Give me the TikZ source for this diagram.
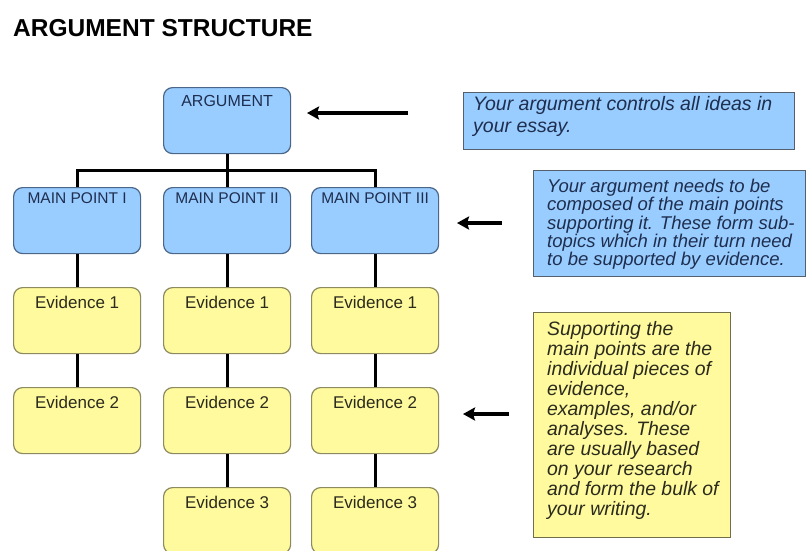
\documentclass[tikz,border=0pt]{standalone}
\usepackage{fontspec}
\setmainfont{Liberation Sans}
\usetikzlibrary{arrows.meta}
\definecolor{bluefill}{HTML}{99CCFF}
\definecolor{blueborder}{HTML}{4A6688}
\definecolor{yelfill}{HTML}{FFFA9E}
\definecolor{yelborder}{HTML}{8C8A5E}
\definecolor{noteborder}{HTML}{55606E}
\definecolor{navytext}{HTML}{1E2E4E}
\definecolor{darktext}{HTML}{2B2B1E}
\newcommand{\tightlines}{\lineskiplimit=-20pt\relax\lineskip=0pt\relax}
\tikzset{
  bluebox/.style={draw=blueborder, fill=bluefill, line width=1.2pt, rounded corners=9pt,
    minimum width=127pt, minimum height=66pt, anchor=north west, inner sep=0pt},
  yelbox/.style={draw=yelborder, fill=yelfill, line width=1.2pt, rounded corners=9pt,
    minimum width=127pt, minimum height=66pt, anchor=north west, inner sep=0pt},
  bluelabel/.style={anchor=base, inner sep=0pt, text=navytext, font=\fontsize{15.5}{18}\selectfont},
  evlabel/.style={anchor=base, inner sep=0pt, text=darktext, font=\fontsize{17}{20}\selectfont},
  conn/.style={line width=3pt, black},
  pointer/.style={line width=4pt, black, -{Stealth[length=12pt,width=13pt,inset=2pt]}},
  notebox/.style={draw=noteborder, line width=1.2pt, anchor=north west, inner sep=0pt},
  notetext/.style={anchor=north west, inner sep=0pt, align=left}
}
\begin{document}
\begin{tikzpicture}[x=1pt,y=-1pt]
\clip (0,0) rectangle (807,550);
\fill[white] (0,0) rectangle (807,550);

% title
\node[anchor=base west, inner sep=0pt, font=\bfseries\fontsize{24.5}{28}\selectfont] (title) at (13,36) {ARGUMENT STRUCTURE};

% argument
\node[bluebox] (arg) at (163,87) {};
\node[bluelabel, font=\fontsize{16}{18}\selectfont] (argl) at ([yshift=-19pt]arg.north) {ARGUMENT};

% main points
\node[bluebox] (m1) at (13,187) {};
\node[bluebox] (m2) at (163,187) {};
\node[bluebox] (m3) at (311,187) {};
\node[bluelabel] (m1l) at ([yshift=-16pt]m1.north) {MAIN POINT I};
\node[bluelabel] (m2l) at ([yshift=-16pt]m2.north) {MAIN POINT II};
\node[bluelabel] (m3l) at ([yshift=-16pt]m3.north) {MAIN POINT III};

% evidence
\node[yelbox] (e11) at (13,287) {};
\node[yelbox] (e21) at (163,287) {};
\node[yelbox] (e31) at (311,287) {};
\node[yelbox] (e12) at (13,387) {};
\node[yelbox] (e22) at (163,387) {};
\node[yelbox] (e32) at (311,387) {};
\node[yelbox] (e23) at (163,487) {};
\node[yelbox] (e33) at (311,487) {};
\foreach \n/\t in {e11/Evidence 1,e21/Evidence 1,e31/Evidence 1,e12/Evidence 2,e22/Evidence 2,e32/Evidence 2,e23/Evidence 3,e33/Evidence 3}{
  \node[evlabel] (\n l) at ([yshift=-21pt]\n.north) {\t};
}

% connectors
\coordinate (bar) at (226,170);
\draw[conn] (arg.south) -- (m2.north);
\draw[conn] (m1.north) -- (m1.north |- bar) -- (m3.north |- bar) -- (m3.north);
\draw[conn] (m1.south) -- (e11.north);
\draw[conn] (m2.south) -- (e21.north);
\draw[conn] (m3.south) -- (e31.north);
\draw[conn] (e11.south) -- (e12.north);
\draw[conn] (e21.south) -- (e22.north);
\draw[conn] (e31.south) -- (e32.north);
\draw[conn] (e22.south) -- (e23.north);
\draw[conn] (e32.south) -- (e33.north);

% notes
\node[notebox, fill=bluefill, minimum width=331pt, minimum height=57pt] (n1) at (463,92) {};
\node[notetext, text=navytext, font=\itshape\fontsize{19.5}{22}\selectfont] (n1t) at (473,96)
  {Your argument controls all ideas in\\your essay.};
\node[notebox, fill=bluefill, minimum width=272pt, minimum height=106pt] (n2) at (533,170) {};
\node[notetext, text=navytext, font=\itshape\fontsize{18.5}{18.3}\selectfont\tightlines] (n2t) at (547,179)
  {Your argument needs to be\\composed of the main points\\supporting it. These form sub-\\topics which in their turn need\\to be supported by evidence.};
\node[notebox, draw=yelborder!80!black, fill=yelfill, minimum width=197pt, minimum height=225pt] (n3) at (533,312) {};
\node[notetext, text=darktext, font=\itshape\fontsize{19.4}{20}\selectfont\tightlines] (n3t) at (547,321)
  {Supporting the\\main points are the\\individual pieces of\\evidence,\\examples, and/or\\analyses. These\\are usually based\\on your research\\and form the bulk of\\your writing.};

% pointers
\coordinate (p1s) at (408,113); \coordinate (p1e) at (307,113);
\coordinate (p2s) at (502,223); \coordinate (p2e) at (457,223);
\coordinate (p3s) at (509,414); \coordinate (p3e) at (463,414);
\draw[pointer] (p1s) -- (p1e);
\draw[pointer] (p2s) -- (p2e);
\draw[pointer] (p3s) -- (p3e);
\end{tikzpicture}
\end{document}
